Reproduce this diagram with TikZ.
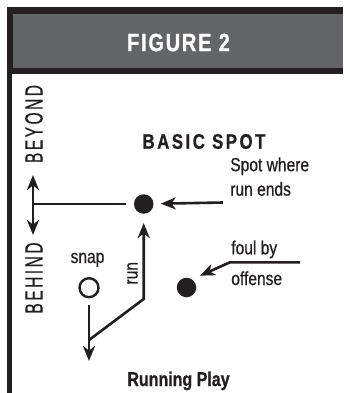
\documentclass[tikz,border=0pt]{standalone}
\usepackage{fontspec}
\setmainfont{Liberation Sans}
\newfontfamily\cond[FakeStretch=0.82,FakeBold=0.6]{Liberation Sans}
\newfontfamily\condb[FakeStretch=0.8,FakeBold=0.8]{Liberation Sans}
\newfontfamily\sidef[FakeStretch=0.62,LetterSpace=10,FakeBold=0.4]{Liberation Sans}
\newfontfamily\headf[FakeStretch=0.8,LetterSpace=7,FakeBold=0.8]{Liberation Sans}
\newfontfamily\titlef[FakeStretch=0.8,LetterSpace=12,FakeBold=0.8]{Liberation Sans}
\usetikzlibrary{arrows.meta}
\definecolor{dk}{HTML}{231F20}
\definecolor{hg}{HTML}{636466}
\begin{document}
\begin{tikzpicture}[x=1pt,y=-1pt,
  line width=2.6pt, draw=dk,
  tip/.tip={Stealth[length=15pt,width=12pt,inset=4.5pt]},
  arr/.style={draw=dk,-tip},
  dblarr/.style={draw=dk,tip-tip},
  dot/.style={circle,fill=dk,draw=none,minimum size=19.5pt,inner sep=0pt},
  hollow/.style={circle,draw=dk,fill=white,line width=2.4pt,minimum size=19pt,inner sep=0pt},
  lbl/.style={text=dk,inner sep=0pt,font=\cond\fontsize{19}{24.5}\selectfont},
  side/.style={text=dk,inner sep=0pt,rotate=90,font=\sidef\fontsize{25}{25}\selectfont},
  bold/.style={text=dk,inner sep=0pt}]
\useasboundingbox (0,0) rectangle (343,393);
\fill[white] (0,0) rectangle (343,393);
% header
\fill[dk] (7,7) rectangle (343,74);
\fill[hg] (12.5,14) rectangle (343,68);
\fill[dk] (7,74) rectangle (11.8,393);
\node[text=white,inner sep=0pt] (fig) at (178.5,42.5) {\headf\bfseries\fontsize{25}{25}\selectfont FIGURE 2};
% side labels
\node[side] (beyond) at (34,124) {BEYOND};
\node[side] (behind) at (34,278) {BEHIND};
% title
\node[bold] (basic) at (204,141.5) {\titlef\bfseries\fontsize{21}{21}\selectfont BASIC SPOT};
% dots
\node[dot] (spot) at (143.7,204) {};
\node[dot] (foul) at (186.5,287.5) {};
\node[hollow] (snapc) at (89,287.7) {};
% double arrow and line of scrimmage
\coordinate (btop) at (33,175);
\coordinate (bbot) at (33,235);
\coordinate (bmid) at (33,204);
\draw[dblarr] (btop) -- (bbot);
\draw[draw=dk,shorten >=6.5pt] (bmid) -- (spot);
% run
\coordinate (snapend) at (89,361);
\coordinate (join) at (89,340);
\coordinate (bend) at (143.7,299);
\draw[arr,shorten <=6.5pt] (snapc) -- (snapend);
\draw[arr,shorten >=8pt,line join=miter] (join) -- (bend) -- (spot);
\node[lbl,rotate=90] (runlbl) at (132.5,273.3) {run};
\node[lbl,anchor=base] (snaplbl) at (87.5,263) {snap};
% spot label
\node[lbl,anchor=base west,align=left] (spotlbl) at (229,195.7) {Spot where\\run ends};
\coordinate (spotarrs) at (223,202.5);
\draw[arr,shorten >=6pt] (spotarrs) -- (spot);
% foul label
\node[lbl,anchor=base west] (foulby) at (230,254.3) {foul by};
\node[lbl,anchor=base west] (offense) at (230,285) {offense};
\coordinate (fr) at (300,262.3);
\coordinate (fl) at (230,262.3);
\coordinate (ftip) at (200,275.7);
\draw[arr,line join=miter] (fr) -- (fl) -- (ftip);
% caption
\node[bold,anchor=base] (caption) at (178.5,386) {\condb\bfseries\fontsize{20}{20}\selectfont Running Play};
\end{tikzpicture}
\end{document}
